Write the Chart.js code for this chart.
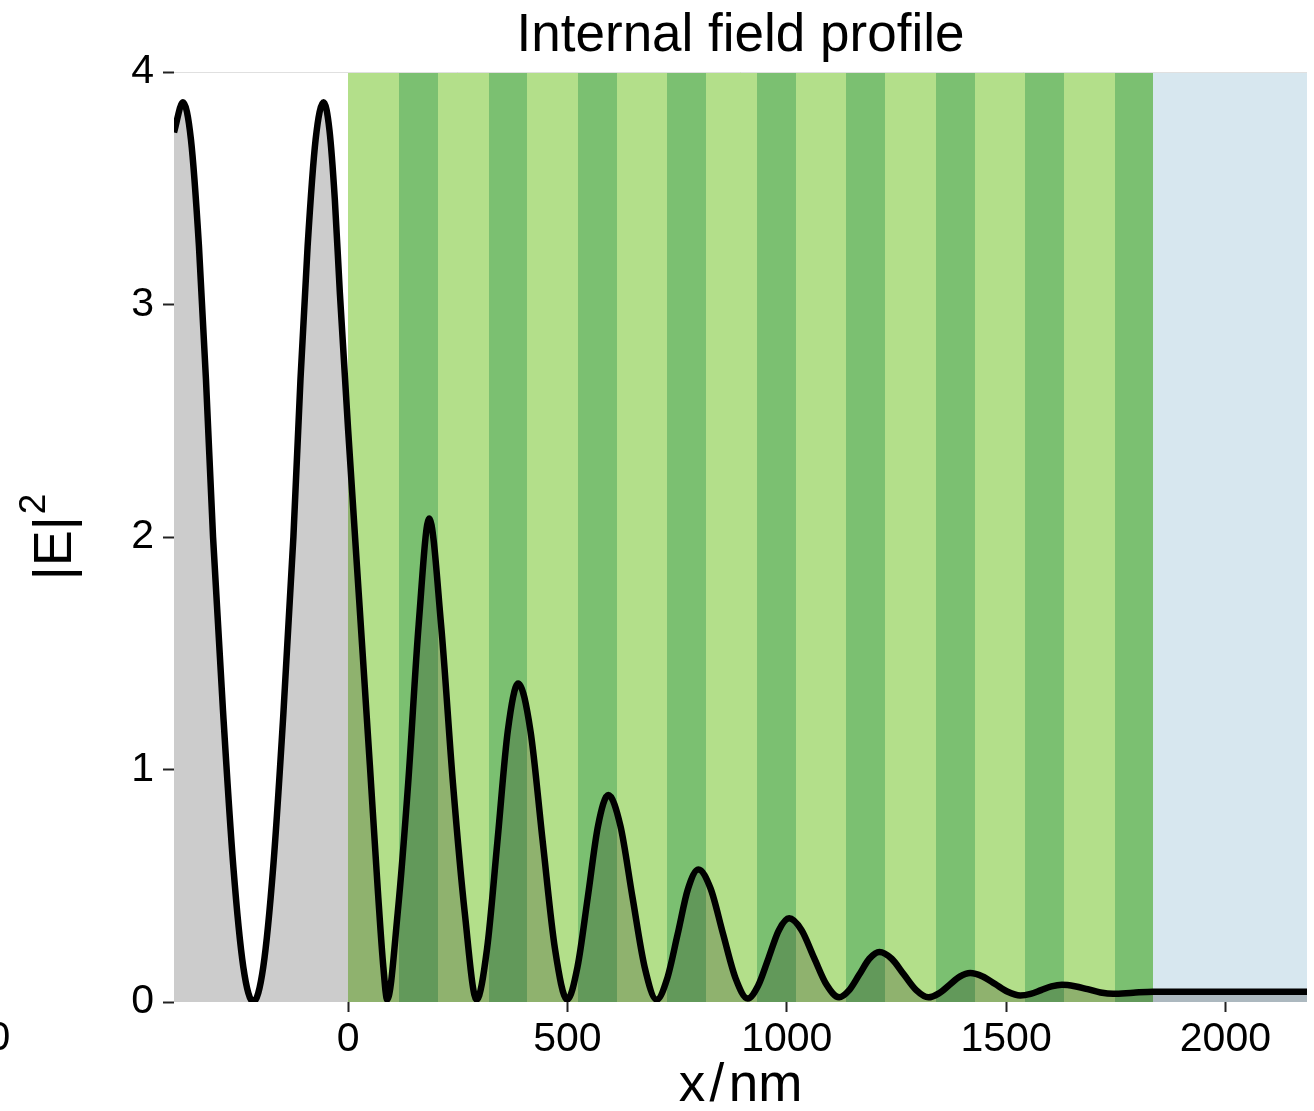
<!DOCTYPE html>
<html lang="en">
<head>
<meta charset="UTF-8">
<title>Internal field profile</title>
<script src="https://cdn.jsdelivr.net/npm/chart.js@4/dist/chart.umd.min.js"></script>
<style>
  html, body { margin: 0; padding: 0; background: #fff; }
  #wrap { width: 1314px; height: 1111px; }
</style>
</head>
<body>
<div id="wrap"><canvas id="fieldChart" width="1314" height="1111"></canvas></div>
<script>
// position through the stack (nm) and the field intensity |E|^2 there
const depthNm = [
  -397, -376.6, -358.4, -340.1, -324.2, -308.0, -284.7, -261.9, -239.1, -216.2,
  -193.4, -170.6, -147.8, -124.8, -108.6, -92.4, -74.1, -55.9, -42.6, -30.3,
  -18.9, 0, 25.1, 49.5, 67.7, 80.3, 89,
  112.95, 136.9, 160.85, 184.8, 211.8, 238.9, 265.9, 292.9,
  316.6, 340.3, 364.0, 387.8, 415.7, 443.6, 471.6, 499.5,
  522.9, 546.3, 569.7, 593.1, 620.7, 648.3, 675.9, 703.5,
  727.2, 751.0, 774.7, 798.4, 826.5, 854.7, 882.9, 911,
  934.6, 958.2, 981.7, 1005.3, 1033.8, 1062.3, 1090.8, 1119.3,
  1142.3, 1165.3, 1188.2, 1211.2, 1239.2, 1267.1, 1295.1, 1323,
  1346.8, 1370.6, 1394.3, 1418.1, 1446.6, 1475.1, 1503.7, 1532.2,
  1556.0, 1579.8, 1603.5, 1627.3, 1656.6, 1685.8, 1715.1, 1744.3,
  1790, 1835.5, 2000, 2186
];
const fieldSq = [
  3.74, 3.87, 3.71, 3.25, 2.68, 2.00, 1.235, 0.586, 0.152, 0.00,
  0.152, 0.586, 1.235, 2.00, 2.68, 3.25, 3.71, 3.87, 3.75, 3.45,
  3.05, 2.46, 1.73, 1.02, 0.48, 0.15, 0.01,
  0.383, 0.942, 1.625, 2.08, 1.625, 0.942, 0.383, 0.01,
  0.228, 0.69, 1.166, 1.37, 1.166, 0.69, 0.228, 0.01,
  0.151, 0.45, 0.758, 0.89, 0.758, 0.45, 0.151, 0.01,
  0.100, 0.29, 0.486, 0.57, 0.487, 0.293, 0.104, 0.015,
  0.070, 0.188, 0.308, 0.36, 0.309, 0.19, 0.074, 0.02,
  0.051, 0.118, 0.186, 0.215, 0.186, 0.118, 0.051, 0.02,
  0.037, 0.073, 0.109, 0.125, 0.110, 0.077, 0.044, 0.028,
  0.035, 0.051, 0.067, 0.074, 0.068, 0.055, 0.041, 0.035,
  0.040, 0.044, 0.044, 0.044
];

// layers of the stack: 9 light/dark pairs, then the substrate
const layerStart = [0, 116, 204, 320, 408, 524, 612, 728, 816, 932, 1020, 1136, 1224, 1340, 1428, 1544, 1632, 1748, 1836];
const layerEnd   = [116, 204, 320, 408, 524, 612, 728, 816, 932, 1020, 1136, 1224, 1340, 1428, 1544, 1632, 1748, 1836, 2186];
const layerKind  = ['light', 'dark', 'light', 'dark', 'light', 'dark', 'light', 'dark', 'light', 'dark',
                    'light', 'dark', 'light', 'dark', 'light', 'dark', 'light', 'dark', 'substrate'];

const xTicks = [0, 500, 1000, 1500, 2000];
const yTicks = [0, 1, 2, 3, 4];

const layerColors = { light: '#b3df8a', dark: '#7bc071', substrate: '#d7e7ef' };
const fontFamily = "'Liberation Sans', Arial, Helvetica, sans-serif";

// layer bands behind the curve, snapped to whole pixels so neighbours don't leave seams
const layerBands = {
  id: 'layerBands',
  beforeDatasetsDraw(chart) {
    const { ctx, chartArea, scales } = chart;
    const yTop = scales.y.getPixelForValue(4);
    const yBot = scales.y.getPixelForValue(0);
    ctx.save();
    ctx.beginPath();
    ctx.rect(chartArea.left, chartArea.top, chartArea.width, chartArea.height);
    ctx.clip();
    layerStart.forEach((s, i) => {
      const x0 = Math.round(scales.x.getPixelForValue(s));
      const x1 = Math.round(scales.x.getPixelForValue(layerEnd[i]));
      ctx.fillStyle = layerColors[layerKind[i]];
      ctx.fillRect(x0, yTop, x1 - x0, yBot - yTop);
    });
    ctx.restore();
  }
};

// top rule, y title with a real superscript, and the clipped label at the left margin
const extras = {
  id: 'extras',
  afterDatasetsDraw(chart) {
    const { ctx, chartArea } = chart;
    ctx.save();
    ctx.strokeStyle = '#e0e0e0';
    ctx.lineWidth = 1;
    ctx.beginPath();
    ctx.moveTo(chartArea.left, chartArea.top + 0.5);
    ctx.lineTo(chartArea.right, chartArea.top + 0.5);
    ctx.stroke();
    ctx.restore();
  },
  afterDraw(chart) {
    const { ctx, chartArea } = chart;
    ctx.save();
    ctx.fillStyle = '#000';
    ctx.translate(71, (chartArea.top + chartArea.bottom) / 2);
    ctx.rotate(-Math.PI / 2);
    ctx.textAlign = 'left';
    ctx.textBaseline = 'alphabetic';
    ctx.font = '54px ' + fontFamily;
    const wMain = ctx.measureText('|E|').width;
    ctx.font = '37px ' + fontFamily;
    const wSup = ctx.measureText('2').width;
    const x0 = -(wMain + 2 + wSup) / 2;
    ctx.font = '54px ' + fontFamily;
    ctx.fillText('|E|', x0, 0);
    ctx.font = '37px ' + fontFamily;
    ctx.fillText('2', x0 + wMain + 2, -26);
    ctx.restore();

    ctx.save();
    ctx.font = '41px ' + fontFamily;
    ctx.fillStyle = '#000';
    ctx.textAlign = 'center';
    ctx.textBaseline = 'middle';
    ctx.fillText('0', -1, 1039);
    ctx.restore();
  }
};

const curve = {
  label: '|E|^2',
  data: depthNm.map((x, i) => ({ x: x, y: fieldSq[i] })),
  borderColor: '#000',
  borderWidth: 6.5,
  backgroundColor: 'rgba(0,0,0,0.2)',
  fill: 'origin',
  pointRadius: 0,
  cubicInterpolationMode: 'monotone'
};

new Chart(document.getElementById('fieldChart'), {
  type: 'line',
  data: { datasets: [curve] },
  options: {
    responsive: false,
    animation: false,
    devicePixelRatio: 1,
    layout: { padding: { left: 0, right: 7, top: 0, bottom: 0 } },
    plugins: {
      legend: { display: false },
      tooltip: { enabled: false },
      title: {
        display: true,
        fullSize: false,
        text: 'Internal field profile',
        color: '#000',
        font: { family: fontFamily, size: 53, weight: 'normal', lineHeight: 1 },
        padding: { top: 10, bottom: 9 }
      }
    },
    scales: {
      x: {
        type: 'linear',
        min: -397,
        max: 2186,
        afterBuildTicks: s => { s.ticks = xTicks.map(v => ({ value: v })); },
        afterFit: s => { s.height = 109; },
        grid: { drawOnChartArea: false, drawTicks: true, tickLength: 10, tickColor: '#222', tickWidth: 2 },
        border: { display: false },
        ticks: {
          color: '#000',
          padding: 3,
          maxRotation: 0,
          callback: v => String(v),
          font: { family: fontFamily, size: 41 }
        },
        title: {
          display: true,
          text: 'x\u200a/\u200anm',
          color: '#000',
          font: { family: fontFamily, size: 53, lineHeight: 1 },
          padding: { top: 0, bottom: -2 }
        }
      },
      y: {
        type: 'linear',
        min: 0,
        max: 4,
        afterBuildTicks: s => { s.ticks = yTicks.map(v => ({ value: v })); },
        afterFit: s => { s.width = 174; },
        grid: { drawOnChartArea: false, drawTicks: true, tickLength: 11, tickColor: '#222', tickWidth: 2 },
        border: { display: false },
        ticks: {
          color: '#000',
          padding: 9,
          callback: v => String(v),
          font: { family: fontFamily, size: 41 }
        },
        title: { display: false }
      }
    }
  },
  plugins: [layerBands, extras]
});
</script>
</body>
</html>
